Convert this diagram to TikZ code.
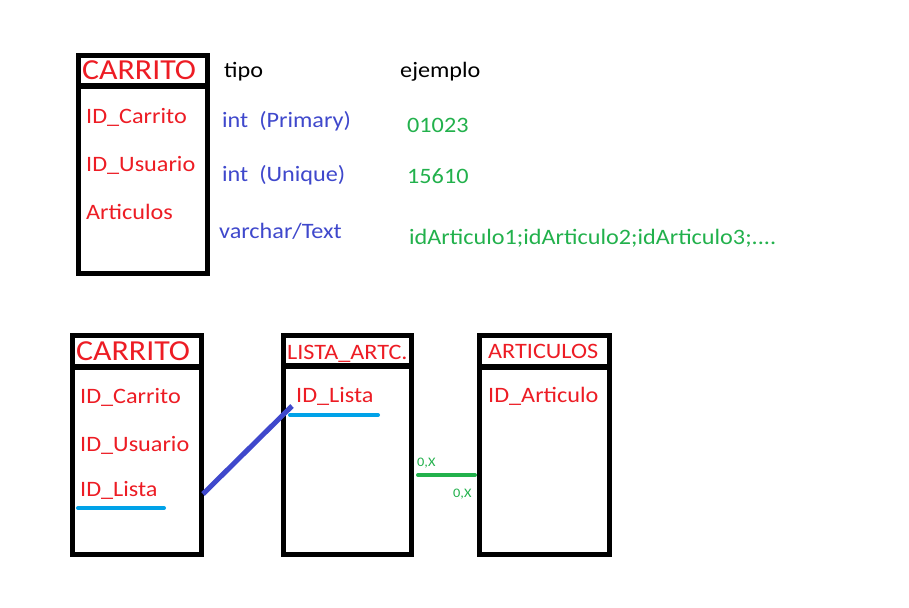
\documentclass[tikz,border=0pt]{standalone}
\usepackage{fontspec}
\setmainfont{Carlito}[FakeStretch=1.1]
\definecolor{pred}{HTML}{ED1C24}
\definecolor{pblue}{HTML}{3F48CC}
\definecolor{pgreen}{HTML}{22B14C}
\definecolor{pcyan}{HTML}{00A2E8}
\begin{document}
\begin{tikzpicture}[x=1pt,y=-1pt,
  txt/.style={anchor=base west,inner sep=0pt,font=\fontsize{22}{25}\selectfont},
  head/.style={txt,text=pred,font=\fontsize{29}{31}\selectfont},
  fld/.style={txt,text=pred},
  typ/.style={txt,text=pblue},
  ex/.style={txt,text=pgreen},
  card/.style={anchor=base west,inner sep=0pt,text=pgreen,font=\fontsize{13}{15}\selectfont},
  frame/.style={draw=black,line width=5pt},
  sep/.style={draw=black,line width=6pt},
  keyline/.style={draw=pcyan,line width=4pt,line cap=round},
  rel/.style={draw=pblue,line width=5pt},
  card line/.style={draw=pgreen,line width=4pt,line cap=round}]
\useasboundingbox[fill=white] (0,0) rectangle (909,607);

% ---- top CARRITO table
\draw[frame] (78.5,55.5) rectangle (207.5,273.5);
\draw[sep] (76,86.5) -- (210,86.5);
\node[head] (t1) at (82,80) {CARRITO};
\node[fld] (t1a) at (86,124) {ID\_Carrito};
\node[fld] (t1b) at (86,171) {ID\_Usuario};
\node[fld] (t1c) at (86,219) {Articulos};

\node[txt] (tipo) at (224,78) {tipo};
\node[txt] (ejemplo) at (400,78) {ejemplo};
\node[typ] (ty1) at (222,127) {int\ \ (Primary)};
\node[typ] (ty2) at (222,181) {int\ \ (Unique)};
\node[typ] (ty3) at (219,238) {varchar/Text};
\node[ex] (ex1) at (407,132) {01023};
\node[ex] (ex2) at (407,183) {15610};
\node[ex] (ex3) at (409,244) {idArticulo1;idArticulo2;idArticulo3;....};

% ---- bottom CARRITO table
\draw[frame] (72.5,335.5) rectangle (201.5,554.5);
\draw[sep] (70,366.5) -- (204,366.5);
\node[head] (c2) at (76,360) {CARRITO};
\node[fld] (c2a) at (80,403) {ID\_Carrito};
\node[fld] (c2b) at (80,451) {ID\_Usuario};
\node[fld] (c2c) at (80,496) {ID\_Lista};
\coordinate (c2u1) at (78,508);
\coordinate (c2u2) at (164,508);
\draw[keyline] (c2u1) -- (c2u2);

% ---- LISTA_ARTC. table
\draw[frame] (283.5,335.5) rectangle (411.5,554.5);
\draw[sep] (281,366) -- (414,366);
\node[head,font=\fontsize{22}{25}\selectfont] (l) at (287,359) {LISTA\_ARTC.};
\node[fld] (la) at (296,402) {ID\_Lista};
\coordinate (lu1) at (290,415);
\coordinate (lu2) at (378,415);
\draw[keyline] (lu1) -- (lu2);

% ---- ARTICULOS table
\draw[frame] (479.5,335.5) rectangle (609.5,554.5);
\draw[sep] (477,366.5) -- (612,366.5);
\node[head,font=\fontsize{22}{25}\selectfont] (a) at (488,358) {ARTICULOS};
\node[fld] (aa) at (488,402) {ID\_Articulo};

% ---- connectors
\coordinate (r1) at (203,494);
\coordinate (r2) at (292,406);
\draw[rel] (r1) -- (r2);
\coordinate (g1) at (418,475);
\coordinate (g2) at (475,475);
\draw[card line] (g1) -- (g2);
\node[card] (k1) at (417,466) {0,X};
\node[card] (k2) at (453,497) {0,X};
\end{tikzpicture}
\end{document}
